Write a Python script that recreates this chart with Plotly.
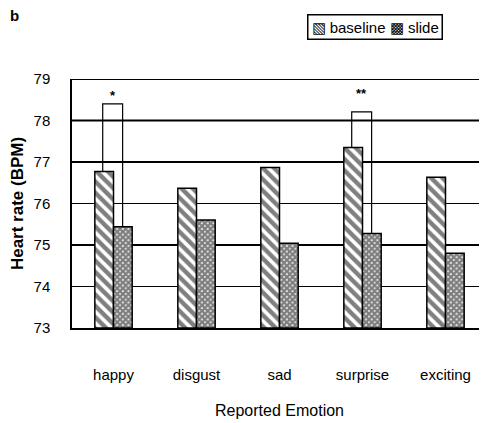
import plotly.graph_objects as go

categories = ["happy", "disgust", "sad", "surprise", "exciting"]
baseline = [76.77, 76.37, 76.87, 77.35, 76.63]
slide = [75.44, 75.60, 75.04, 75.28, 74.80]
y_ticks = [73, 74, 75, 76, 77, 78, 79]
sig_cats = ["happy", "surprise"]
sig_tops = [78.40, 78.21]
sig_marks = ["*", "**"]

FONT = "Liberation Sans, Arial, sans-serif"
# page has an 8px body margin, so the figure is 8px smaller and everything is offset
W, H = 479, 415
L, T, B = 60, 71, 95
PH = H - T - B
PW = W - L

fig = go.Figure()
fig.add_trace(go.Bar(
    x=categories, y=[v - 73 for v in baseline], base=73, name="baseline",
    marker=dict(color="white", line=dict(color="black", width=1.5),
                pattern=dict(shape="\\", fgcolor="black", bgcolor="white", size=8, solidity=0.55)),
))
fig.add_trace(go.Bar(
    x=categories, y=[v - 73 for v in slide], base=73, name="slide",
    marker=dict(color="white", line=dict(color="black", width=1.5),
                pattern=dict(shape="x", fgcolor="black", bgcolor="white", size=4, solidity=0.85)),
))

# significance brackets
idx = {c: i for i, c in enumerate(categories)}
mark_shift = [8, 18]
for c, top, mark, ys in zip(sig_cats, sig_tops, sig_marks, mark_shift):
    i = idx[c]
    xl, xr = i - 0.13, i + 0.11
    fig.add_trace(go.Scatter(
        x=[xl, xl, xr, xr], y=[baseline[i], top, top, slide[i]],
        mode="lines", line=dict(color="black", width=1.2), showlegend=False,
        hoverinfo="skip", xaxis="x2"))
    fig.add_annotation(x=(xl + xr) / 2, y=top, xref="x2", yref="y", text="<b>" + mark + "</b>",
                       showarrow=False, yshift=ys, font=dict(size=13, color="black", family=FONT))

# heavier horizontal rules as in the scan
for yv, w in [(79, 2), (78, 2), (77, 2), (75, 2)]:
    fig.add_shape(type="line", xref="paper", yref="y", x0=0, x1=1, y0=yv, y1=yv,
                  line=dict(color="black", width=w), layer="below")

fig.update_layout(
    width=W, height=H,
    margin=dict(l=L, r=0, t=T, b=B, pad=0),
    plot_bgcolor="white", paper_bgcolor="white",
    barmode="group", bargap=0.55, bargroupgap=0.0,
    font=dict(family=FONT, color="black", size=15),
    showlegend=False,
    xaxis=dict(range=[-0.5, 4.5], showgrid=False, showline=True, linecolor="black", linewidth=1.5,
               ticks="", tickfont=dict(size=15), ticklabelstandoff=32,
               title=dict(text="Reported Emotion", font=dict(size=16), standoff=23)),
    xaxis2=dict(range=[-0.5, 4.5], overlaying="x", visible=False),
    yaxis=dict(range=[73, 79], tickvals=y_ticks, showgrid=True, gridcolor="black", gridwidth=1,
               showline=True, linecolor="black", linewidth=1.5, ticks="",
               tickfont=dict(size=15), zeroline=False, ticklabelstandoff=17,
               title=dict(text="<b>Heart rate (BPM)</b>", font=dict(size=17), standoff=14)),
)
# legend box
fig.add_annotation(xref="paper", yref="paper", x=(297 - L) / PW, y=(H - B - 6) / PH,
                   xanchor="left", yanchor="top", showarrow=False,
                   text="▧ baseline ▩ slide", font=dict(size=15, family=FONT),
                   bordercolor="black", borderwidth=1.5, borderpad=3, bgcolor="white")
# panel letter
fig.add_annotation(xref="paper", yref="paper", x=(2 - L) / PW, y=(H - B - 8) / PH,
                   xanchor="center", yanchor="middle", showarrow=False,
                   text="<b>b</b>", font=dict(size=15, family=FONT))

fig.write_html("out.html")
